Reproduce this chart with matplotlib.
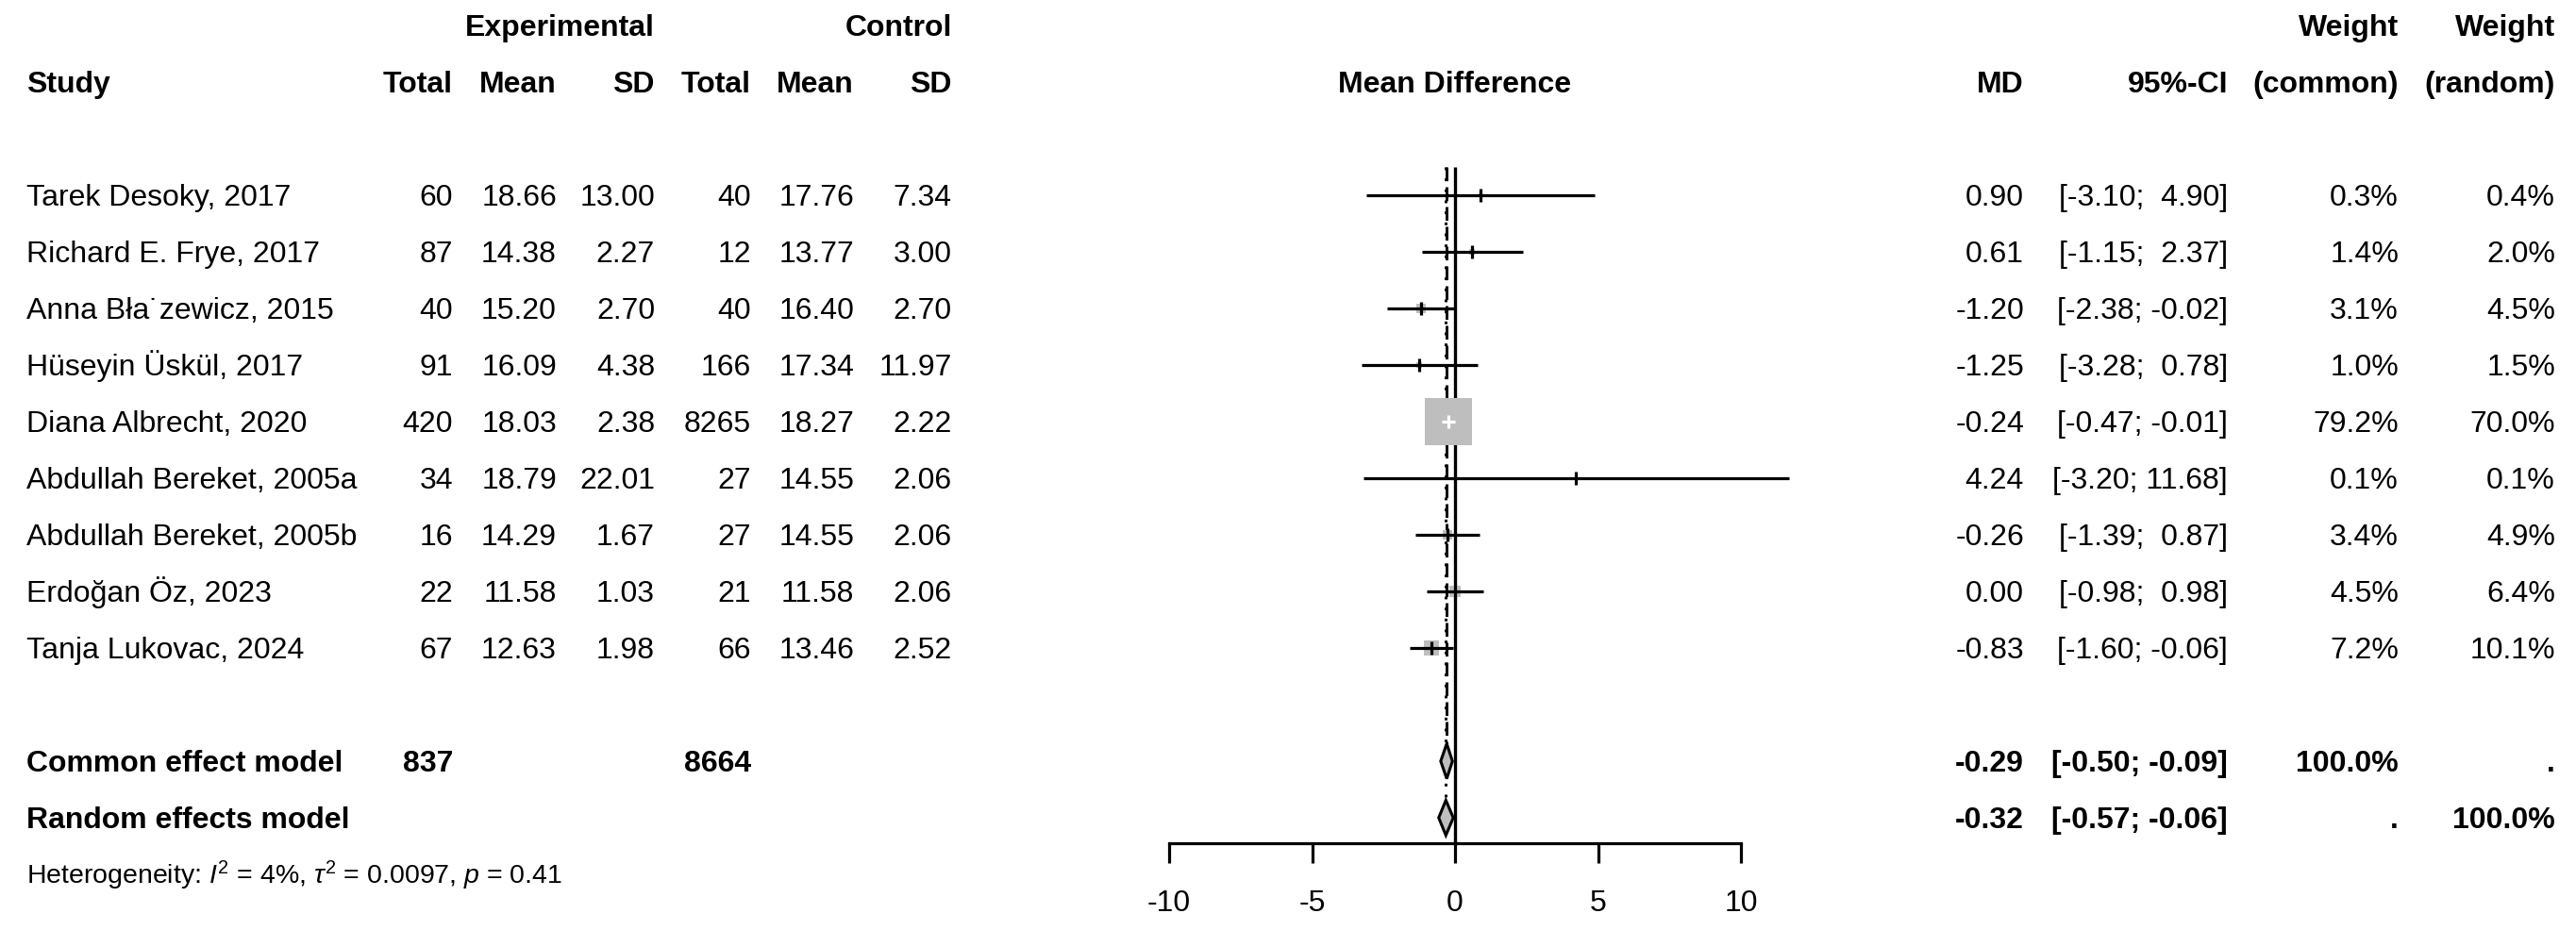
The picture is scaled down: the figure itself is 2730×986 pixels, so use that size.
import matplotlib.pyplot as plt
import matplotlib.transforms as mtransforms
from matplotlib.patches import Polygon
import numpy as np

# study data
studies = ["Tarek Desoky, 2017", "Richard E. Frye, 2017", "Anna Bła˙zewicz, 2015",
           "Hüseyin Üskül, 2017", "Diana Albrecht, 2020", "Abdullah Bereket, 2005a",
           "Abdullah Bereket, 2005b", "Erdoğan Öz, 2023", "Tanja Lukovac, 2024"]
exp_n = [60, 87, 40, 91, 420, 34, 16, 22, 67]
exp_mean = [18.66, 14.38, 15.20, 16.09, 18.03, 18.79, 14.29, 11.58, 12.63]
exp_sd = [13.00, 2.27, 2.70, 4.38, 2.38, 22.01, 1.67, 1.03, 1.98]
ctl_n = [40, 12, 40, 166, 8265, 27, 27, 21, 66]
ctl_mean = [17.76, 13.77, 16.40, 17.34, 18.27, 14.55, 14.55, 11.58, 13.46]
ctl_sd = [7.34, 3.00, 2.70, 11.97, 2.22, 2.06, 2.06, 2.06, 2.52]
md = [0.90, 0.61, -1.20, -1.25, -0.24, 4.24, -0.26, 0.00, -0.83]
ci_lo = [-3.10, -1.15, -2.38, -3.28, -0.47, -3.20, -1.39, -0.98, -1.60]
ci_hi = [4.90, 2.37, -0.02, 0.78, -0.01, 11.68, 0.87, 0.98, -0.06]
w_common = [0.3, 1.4, 3.1, 1.0, 79.2, 0.1, 3.4, 4.5, 7.2]
w_random = [0.4, 2.0, 4.5, 1.5, 70.0, 0.1, 4.9, 6.4, 10.1]

# pooled results
pooled_names = ["Common effect model", "Random effects model"]
pooled_md = [-0.29, -0.32]
pooled_lo = [-0.50, -0.57]
pooled_hi = [-0.09, -0.06]
total_exp = 837
total_ctl = 8664
heterogeneity = r"Heterogeneity: $I^2$ = 4%, $\tau^2$ = 0.0097, $p$ = 0.41"
xticks = [-10, -5, 0, 5, 10]

plt.rcParams['font.family'] = ['Liberation Sans', 'DejaVu Sans']
plt.rcParams['mathtext.fontset'] = 'custom'
plt.rcParams['mathtext.rm'] = 'Liberation Sans'
plt.rcParams['mathtext.it'] = 'Liberation Sans:italic'

W, H = 2730, 986
fig = plt.figure(figsize=(W / 100, H / 100), dpi=100)

# forest panel: x in MD units, y in row units
x0_px, x1_px = 1239, 1845
row0, rowh = 27, 60
ax = fig.add_axes([x0_px / W, 0, (x1_px - x0_px) / W, 1])
ax.set_xlim(-10, 10)
ax.set_ylim((H - row0) / rowh, -row0 / rowh)
px_per_unit = (x1_px - x0_px) / 20

axis_y = 14.45
for s in ['top', 'left', 'right']:
    ax.spines[s].set_visible(False)
ax.spines['bottom'].set_position(('data', axis_y))
ax.spines['bottom'].set_linewidth(2.3)
ax.set_yticks([])
ax.set_xticks(xticks)
ax.set_xticklabels([str(t) for t in xticks])
ax.tick_params(axis='x', direction='out', length=15, width=2.3, labelsize=23, pad=20)

gray = '#BEBEBE'
fs = 23
lw = 2.3
study_rows = np.arange(3, 3 + len(studies))

# reference lines
ax.plot([0, 0], [2.5, axis_y], color='black', lw=2.4, solid_capstyle='butt')
ax.plot([pooled_md[0]] * 2, [2.5, 13 - 0.31], color='black', lw=2.1, dashes=(5, 2.2))
ax.plot([pooled_md[1]] * 2, [2.5, 14 - 0.31], color='black', lw=2.1, dashes=(1, 3))

# study squares and CIs
max_w = max(w_common)
for i, k in enumerate(study_rows):
    side = 36.7 * np.sqrt(w_common[i] / max_w)
    ax.plot(md[i], k, marker='s', ms=side, color=gray, mew=0, zorder=2, clip_on=False)
    inside = (ci_hi[i] - ci_lo[i]) * px_per_unit < side * 100 / 72
    col = 'white' if inside else 'black'
    ax.plot([ci_lo[i], ci_hi[i]], [k, k], color=col, lw=lw, zorder=3,
            clip_on=False, solid_capstyle='butt')
    ax.plot(md[i], k, marker='|', ms=9.5, mew=lw, color=col, zorder=4, clip_on=False)

# diamonds
for j, k in enumerate([13, 14]):
    poly = Polygon([[pooled_lo[j], k], [pooled_md[j], k - 0.31],
                    [pooled_hi[j], k], [pooled_md[j], k + 0.31]],
                   closed=True, facecolor=gray, edgecolor='black', lw=2.2, zorder=5)
    ax.add_patch(poly)

# text columns
tr = mtransforms.blended_transform_factory(fig.transFigure, ax.transData)
base = 0.18


def put(xpx, k, s, ha='right', bold=False, size=fs):
    ax.text(xpx / W, k + base, s, transform=tr, ha=ha, va='baseline',
            fontsize=size, fontweight='bold' if bold else 'normal')


col_study = 28
col_en, col_em, col_esd = 480, 590, 694
col_cn, col_cm, col_csd = 796, 905, 1009
col_md, col_ci, col_wc, col_wr = 2145, 2361, 2542, 2708
col_mdiff = 1542

put(col_esd, 0, "Experimental", bold=True)
put(col_csd, 0, "Control", bold=True)
put(col_wc, 0, "Weight", bold=True)
put(col_wr, 0, "Weight", bold=True)
put(col_study, 1, "Study", ha='left', bold=True)
for xp, lab in [(col_en, "Total"), (col_em, "Mean"), (col_esd, "SD"),
                (col_cn, "Total"), (col_cm, "Mean"), (col_csd, "SD"),
                (col_md, "MD"), (col_ci, "95%-CI"), (col_wc, "(common)"),
                (col_wr, "(random)")]:
    put(xp, 1, lab, bold=True)
put(col_mdiff, 1, "Mean Difference", ha='center', bold=True)

for i, k in enumerate(study_rows):
    put(col_study, k, studies[i], ha='left')
    put(col_en, k, str(exp_n[i]))
    put(col_em, k, f"{exp_mean[i]:.2f}")
    put(col_esd, k, f"{exp_sd[i]:.2f}")
    put(col_cn, k, str(ctl_n[i]))
    put(col_cm, k, f"{ctl_mean[i]:.2f}")
    put(col_csd, k, f"{ctl_sd[i]:.2f}")
    put(col_md, k, f"{md[i]:.2f}")
    put(col_ci, k, f"[{ci_lo[i]:5.2f}; {ci_hi[i]:5.2f}]")
    put(col_wc, k, f"{w_common[i]:.1f}%")
    put(col_wr, k, f"{w_random[i]:.1f}%")

put(col_study, 13, pooled_names[0], ha='left', bold=True)
put(col_en, 13, str(total_exp), bold=True)
put(col_cn, 13, str(total_ctl), bold=True)
put(col_study, 14, pooled_names[1], ha='left', bold=True)
for j, k in enumerate([13, 14]):
    put(col_md, k, f"{pooled_md[j]:.2f}", bold=True)
    put(col_ci, k, f"[{pooled_lo[j]:5.2f}; {pooled_hi[j]:5.2f}]", bold=True)
put(col_wc, 13, "100.0%", bold=True)
put(col_wr, 13, ".", bold=True)
put(col_wc, 14, ".", bold=True)
put(col_wr, 14, "100.0%", bold=True)

put(col_study, 15, heterogeneity, ha='left', size=20.5)

fig.savefig('out.png', dpi=100)
